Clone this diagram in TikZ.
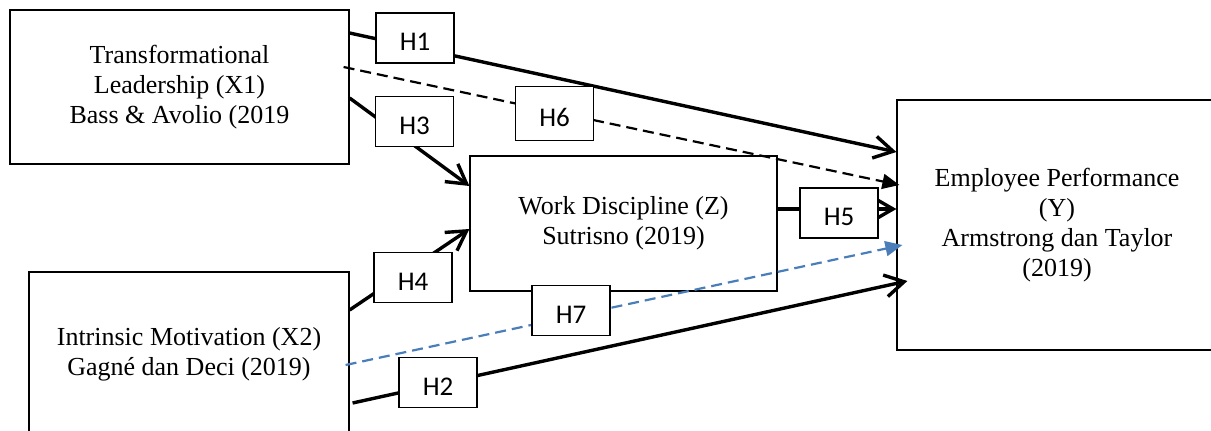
\documentclass[tikz,border=0pt]{standalone}
\usepackage{fontspec}
\setmainfont{Liberation Serif}
\newfontfamily\hypfont{Carlito}
\usetikzlibrary{arrows.meta}
\definecolor{mediablue}{RGB}{74,126,187}

\begin{document}
\begin{tikzpicture}[
        x=1pt, y=-1pt,
        construct/.style={rectangle, draw, line width=1.2pt, align=center, font=\fontsize{26}{30}\selectfont},
        hyp/.style={rectangle, draw, line width=1.2pt, fill=white, minimum width=78pt, minimum height=50pt, inner sep=0pt, text height=25pt, text depth=0pt, font=\hypfont\fontsize{27}{30}\selectfont},
        effect/.style={line width=3.4pt, -{Straight Barb[length=19pt,width=22pt]}},
        mediated/.style={line width=2.2pt, dash pattern=on 11pt off 6pt, -{Triangle[length=17pt,width=15pt]}}
    ]
        \useasboundingbox (0,0) rectangle (1211,431);

        % Variabel
        \node[construct, minimum width=339pt, minimum height=154pt] (x1) at (179.5,87) {Transformational\\Leadership (X1)\\Bass \& Avolio (2019};
        \node[construct, minimum width=320pt, minimum height=164pt] (x2) at (189,354) {Intrinsic Motivation (X2)\\Gagné dan Deci (2019)};
        \node[construct, minimum width=307pt, minimum height=135pt] (z) at (623.5,223.5) {Work Discipline (Z)\\Sutrisno (2019)};
        \node[construct, minimum width=320pt, minimum height=250pt] (y) at (1057,225) {Employee Performance\\(Y)\\Armstrong dan Taylor\\(2019)};

        % Pengaruh langsung
        \draw[effect] ([yshift=54pt]x1.east) -- ([yshift=73pt]y.west);
        \draw[effect] ([xshift=3pt,yshift=-49pt]x2.east) -- ([xshift=11pt,yshift=-56pt]y.west);
        \draw[effect] ([yshift=-11pt]x1.east) -- ([yshift=37.5pt]z.west);
        \draw[effect] ([yshift=44pt]x2.east) -- ([yshift=-5.5pt]z.west);
        \draw[effect] ([yshift=14.5pt]z.east) -- ([yshift=16pt]y.west);

        % Pengaruh tidak langsung
        \draw[mediated] ([xshift=-6pt,yshift=20pt]x1.east) -- ([xshift=3pt,yshift=40pt]y.west);
        \draw[mediated, mediablue] ([xshift=-4pt,yshift=-11pt]x2.east) -- ([xshift=6pt,yshift=-20pt]y.west);

        % Hipotesis
        \node[hyp] (h1) at (415,38) {H1};
        \node[hyp] (h3) at (414.5,121.5) {H3};
        \node[hyp, minimum height=54pt] (h6) at (554.5,113.5) {H6};
        \node[hyp] (h4) at (413,277.5) {H4};
        \node[hyp] (h5) at (839,213) {H5};
        \node[hyp] (h7) at (571,310.5) {H7};
        \node[hyp] (h2) at (438,382.5) {H2};

    \end{tikzpicture}
\end{document}
